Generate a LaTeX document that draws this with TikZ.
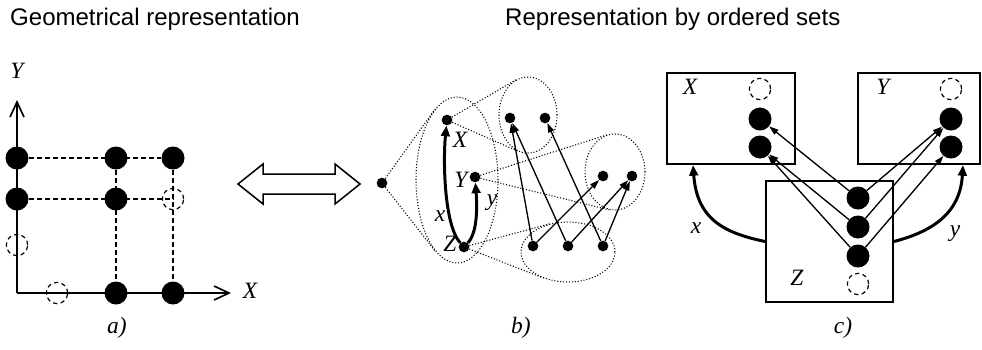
\documentclass[tikz,border=0pt]{standalone}
\usepackage{fontspec}
\setmainfont{Liberation Serif}
\setsansfont{Liberation Sans}
\usetikzlibrary{shapes.geometric, arrows.meta}

\begin{document}
\begin{tikzpicture}[
  x=0.3mm, y=-0.3mm,
  fulldot/.style={circle, fill, inner sep=0pt, minimum size=6.9mm},
  nodot/.style={circle, draw, line width=0.35mm, dash pattern=on 1.3mm off 1mm,
    inner sep=0pt, minimum size=6.4mm},
  elem/.style={circle, fill, inner sep=0pt, minimum size=3.2mm},
  orderset/.style={ellipse, draw, line width=0.9pt, dash pattern=on 0.9pt off 1.6pt, inner sep=0pt},
  cone/.style={line width=0.9pt, dash pattern=on 0.9pt off 1.6pt},
  gridline/.style={line width=0.4mm, dash pattern=on 1.5mm off 0.9mm},
  axisline/.style={line width=0.5mm, -{Straight Barb[length=4.5mm,width=4.2mm]}},
  rel/.style={line width=0.4mm, -{Triangle[length=2.8mm,width=1.8mm]}},
  map/.style={line width=0.9mm, -{Triangle[length=3.2mm,width=2.6mm]}},
  box/.style={draw, line width=0.6mm, inner sep=0pt},
  lbl/.style={font=\fontsize{20}{22}\selectfont\itshape, inner sep=0pt},
  heading/.style={font=\fontsize{20.5}{23}\selectfont\sffamily, inner sep=0pt, anchor=west}
]
\fill[white] (0,0) rectangle (982,349);

% a) Geometrical representation
\node[heading] (titleA) at (10,19) {Geometrical representation};
\coordinate (orig) at (17,293);
\coordinate (yTip) at (17,100);
\coordinate (xTip) at (231,293);
\draw[axisline] (orig) -- (yTip);
\draw[axisline] (orig) -- (xTip);
\node[lbl] (labY) at (17,71) {Y};
\node[lbl] (labX) at (250,291) {X};

\node[fulldot] (a02) at (17,158) {};
\node[fulldot] (a12) at (116,158) {};
\node[fulldot] (a22) at (173,158) {};
\node[fulldot] (a01) at (17,199) {};
\node[fulldot] (a11) at (116,199) {};
\node[nodot] (a21) at (173,199) {};
\node[nodot] (a0h) at (17,245) {};
\node[nodot] (ah0) at (57,293) {};
\node[fulldot] (a10) at (116,293) {};
\node[fulldot] (a20) at (173,293) {};
\draw[gridline] (a02) -- (a22);
\draw[gridline] (a01) -- (a21.center);
\draw[gridline] (a12) -- (a10);
\draw[gridline] (a22) -- (a20);
\node[lbl] (capA) at (117,328) {a)};

% Equivalence arrow
\draw[line width=0.45mm, line join=miter] (238,184) -- (263,164) -- (263,174) -- (335,174)
  -- (335,164) -- (360,184) -- (335,204) -- (335,194) -- (263,194) -- (263,204) -- cycle;

% b) Ordered sets
\node[heading] (titleB) at (505,19) {Representation by ordered sets};
\node[orderset, minimum width=24.6mm, minimum height=49.8mm] (setXYZ) at (457,180) {};
\node[orderset, minimum width=17.4mm, minimum height=22.8mm] (setX) at (528,115) {};
\node[orderset, minimum width=18mm, minimum height=22.8mm] (setY) at (615,172) {};
\node[orderset, minimum width=28.2mm, minimum height=18mm] (setZ) at (568,252) {};

\node[elem] (apex) at (382,183) {};
\node[elem] (eX) at (447,120) {};
\node[elem] (eY) at (475,177) {};
\node[elem] (eZ) at (464,247) {};
\node[elem] (x1) at (510,118) {};
\node[elem] (x2) at (545,118) {};
\node[elem] (y1) at (603,176) {};
\node[elem] (y2) at (632,176) {};
\node[elem] (z1) at (533,246) {};
\node[elem] (z2) at (568,246) {};
\node[elem] (z3) at (603,246) {};

\draw[cone] (apex) -- (setXYZ.107);
\draw[cone] (apex) -- (setXYZ.253);
\draw[cone] (eX) -- (setX.109);
\draw[cone] (eX) -- (setX.256);
\draw[cone] (eY) -- (setY.101);
\draw[cone] (eY) -- (setY.261);
\draw[cone] (eZ) -- (setZ.123);
\draw[cone] (eZ) -- (setZ.227);

\draw[rel] (z1) -- (x1);
\draw[rel] (z2) -- (x1);
\draw[rel] (z3) -- (x2);
\draw[rel] (z1) -- (y1);
\draw[rel] (z2) -- (y2);
\draw[rel] (z3) -- (y2);

\draw[map] (eZ) .. controls (444,225) and (443,160) .. (eX);
\draw[map] (eZ) .. controls (478,232) and (477,205) .. (eY);
\node[lbl] (labXb) at (460,140) {X};
\node[lbl] (labYb) at (461,180) {Y};
\node[lbl] (labZb) at (450,244) {Z};
\node[lbl] (labxb) at (440,216) {x};
\node[lbl] (labyb) at (492,203) {y};
\node[lbl] (capB) at (521,328) {b)};

% c) Boxes
\node[box, minimum width=38.4mm, minimum height=27.3mm] (boxX) at (731,118.5) {};
\node[box, minimum width=36.6mm, minimum height=27.3mm] (boxY) at (919,118.5) {};
\node[box, minimum width=38.1mm, minimum height=36.3mm] (boxZ) at (829.5,241.5) {};
\node[lbl] (labXc) at (690,87) {X};
\node[lbl] (labYc) at (883,87) {Y};
\node[lbl] (labZc) at (797,278) {Z};

\node[nodot] (cx0) at (760,89) {};
\node[fulldot] (cx1) at (760,119) {};
\node[fulldot] (cx2) at (760,147) {};
\node[nodot] (cy0) at (951,89) {};
\node[fulldot] (cy1) at (951,119) {};
\node[fulldot] (cy2) at (951,147) {};
\node[fulldot] (cz1) at (858,198) {};
\node[fulldot] (cz2) at (858,227) {};
\node[fulldot] (cz3) at (858,256) {};
\node[nodot] (cz0) at (858,284) {};

\draw[rel] (cz1) -- (cx1);
\draw[rel] (cz2) -- (cx2);
\draw[rel] (cz3) -- (cx2);
\draw[rel] (cz1) -- (cy1);
\draw[rel] (cz2) -- (cy1);
\draw[rel] (cz3) -- (cy2);

\coordinate (mapXend) at (693,165);
\coordinate (mapYend) at (963,165);
\draw[map] (boxZ.west) .. controls (725,233) and (697,220) .. (mapXend);
\draw[map] (boxZ.east) .. controls (930,232) and (960,215) .. (mapYend);
\node[lbl] (labxc) at (696,228) {x};
\node[lbl] (labyc) at (955,234) {y};
\node[lbl] (capC) at (843,328) {c)};
\end{tikzpicture}
\end{document}
